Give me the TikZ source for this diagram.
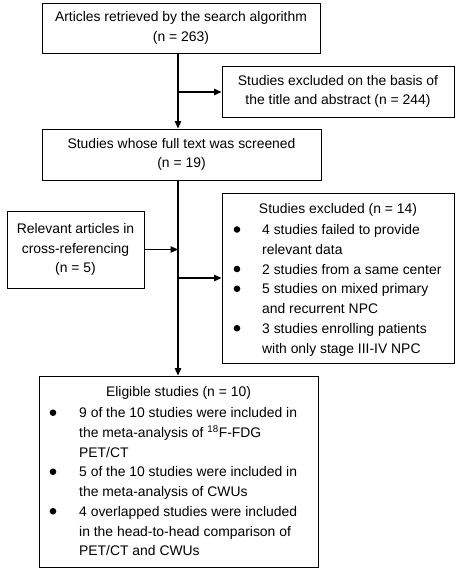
\documentclass[tikz,border=0pt]{standalone}
\usepackage{fontspec}
\setmainfont{Liberation Sans}
\usetikzlibrary{arrows.meta}
\newcommand\myfs{\fontsize{13.9}{19.7}\selectfont}
\begin{document}
\begin{tikzpicture}[x=1pt,y=-1pt,
  box/.style={draw, line width=1pt, inner sep=0pt, align=center, font=\myfs},
  txt/.style={anchor=north west, inner sep=0pt, align=left, font=\myfs},
  bul/.style={circle, fill=black, inner sep=0pt, minimum size=6.6pt},
  arr/.style={line width=1.2pt, -{Triangle[length=7.5pt,width=6.5pt]}},
  ln/.style={line width=1.2pt}]
\useasboundingbox (0,0) rectangle (461,570);
\fill[white] (0,0) rectangle (461,570);

\node[box, minimum width=278pt, minimum height=50pt] (b1) at (181,28)
  {Articles retrieved by the search algorithm\\(n = 263)};
\node[box, minimum width=232pt, minimum height=51pt] (b2) at (338,91.5)
  {Studies excluded on the basis of\\the title and abstract (n = 244)};
\node[box, minimum width=279pt, minimum height=51pt] (b3) at (181.5,154.5)
  {Studies whose full text was screened\\(n = 19)};
\node[box, minimum width=137pt, minimum height=77pt] (rel) at (75.5,249.5)
  {Relevant articles in\\cross-referencing\\(n = 5)};
\node[box, minimum width=232pt, minimum height=170pt] (ex) at (338,278) {};
\node[box, minimum width=279pt, minimum height=191pt] (fin) at (178.5,471.5) {};

% excluded (n = 14) contents
\node[font=\myfs, inner sep=0pt] (exh) at (338,210) {Studies excluded (n = 14)};
\node[bul] (eb1) at (237,229.5) {};
\node[bul] (eb2) at (237,269) {};
\node[bul] (eb3) at (237,288.8) {};
\node[bul] (eb4) at (237,328.2) {};
\node[txt] (et1) at (262,229.7-8.8) {\strut 4 studies failed to provide\\relevant data};
\node[txt] (et2) at (262,269.1-8.8) {\strut 2 studies from a same center};
\node[txt] (et3) at (262,288.8-8.8) {\strut 5 studies on mixed primary\\and recurrent NPC};
\node[txt] (et4) at (262,328.2-8.8) {\strut 3 studies enrolling patients\\with only stage III-IV NPC};

% eligible studies contents
\node[font=\myfs, inner sep=0pt] (fh) at (178.5,393) {Eligible studies (n = 10)};
\node[bul] (fb1) at (53,412.7) {};
\node[bul] (fb2) at (53,471.8) {};
\node[bul] (fb3) at (53,511.2) {};
\node[txt] (ft1) at (79,412.7-8.8) {\strut 9 of the 10 studies were included in\\the meta-analysis of \textsuperscript{18}F-FDG\\PET/CT};
\node[txt] (ft2) at (79,471.8-8.8) {\strut 5 of the 10 studies were included in\\the meta-analysis of CWUs};
\node[txt] (ft3) at (79,511.2-8.8) {\strut 4 overlapped studies were included\\in the head-to-head comparison of\\PET/CT and CWUs};

% connectors
\coordinate (v) at (178,0);
\coordinate (j1) at (178,92);
\coordinate (j2) at (178,278);
\draw[arr] (b1.south -| v) -- (b3.north -| v);
\draw[arr] (j1) -- (j1 -| b2.west);
\draw[arr] (b3.south -| v) -- (fin.north -| v);
\draw[arr] (rel.east) -- (rel.east -| v);
\draw[arr] (j2) -- (j2 -| ex.west);
\end{tikzpicture}
\end{document}
